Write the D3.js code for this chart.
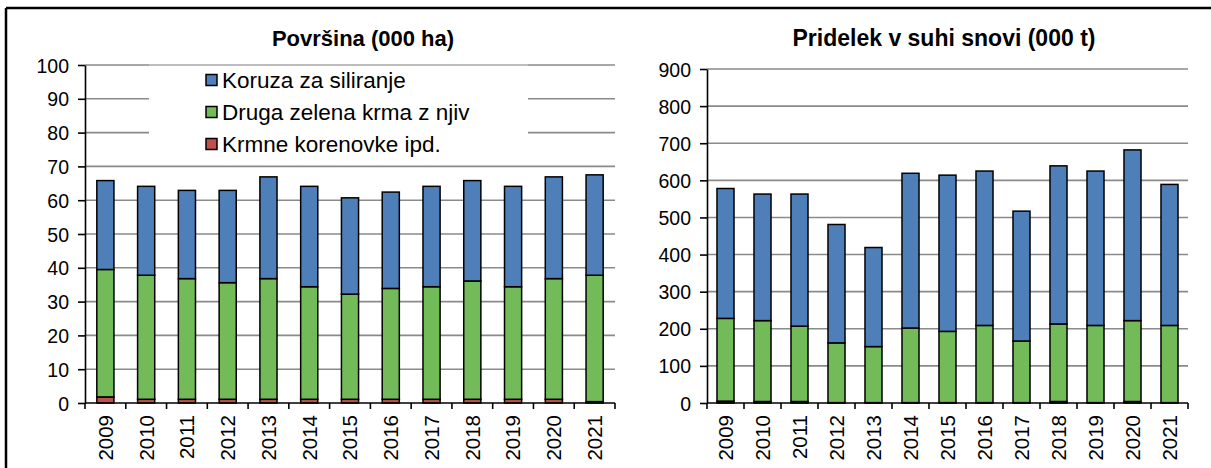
<!DOCTYPE html>
<html>
<head>
<meta charset="utf-8">
<script src="https://cdn.jsdelivr.net/npm/d3@7"></script>
<style>
  body { margin: 0; background: #fff; }
  svg text { font-family: "Liberation Sans", Arial, sans-serif; fill: #000; }
</style>
</head>
<body>
<svg id="chart" width="1211" height="468"></svg>
<script>
// data
const years = ["2009","2010","2011","2012","2013","2014","2015","2016","2017","2018","2019","2020","2021"]
const seriesNames = ["Krmne korenovke ipd.", "Druga zelena krma z njiv", "Koruza za siliranje"]
const colors = ["#C0504D", "#72BB58", "#4F7FB8"]

// area (000 ha)
const areaKrmne  = [1.8, 1.1, 1.1, 1.1, 1.1, 1.1, 1.1, 1.1, 1.1, 1.1, 1.1, 1.1, 0.4]
const areaDruga  = [37.7, 36.7, 35.7, 34.5, 35.7, 33.3, 31.1, 32.8, 33.3, 35.0, 33.3, 35.7, 37.4]
const areaKoruza = [26.3, 26.3, 26.1, 27.3, 30.1, 29.7, 28.5, 28.5, 29.7, 29.7, 29.7, 30.1, 29.7]
const areaTicks = [0, 10, 20, 30, 40, 50, 60, 70, 80, 90, 100]

// dry matter yield (000 t)
const yieldKrmne  = [5, 4, 4, 1, 1, 1, 1, 1, 1, 4, 1, 4, 1]
const yieldDruga  = [223, 218, 203, 161, 151, 201, 192, 208, 166, 209, 208, 218, 208]
const yieldKoruza = [350, 341, 356, 319, 267, 417, 421, 416, 350, 426, 416, 460, 380]
const yieldTicks = [0, 100, 200, 300, 400, 500, 600, 700, 800, 900]

const svg = d3.select("#chart")

// outer frame (top + left edge)
svg.append("line").attr("x1", 6).attr("x2", 1211).attr("y1", 8).attr("y2", 8)
  .attr("stroke", "#000").attr("stroke-width", 2.5)
svg.append("line").attr("x1", 6).attr("x2", 6).attr("y1", 8).attr("y2", 468)
  .attr("stroke", "#000").attr("stroke-width", 2.5)

function drawPanel(opts) {
  const rows = years.map(function(y, i) {
    return { year: y, k0: opts.s0[i], k1: opts.s1[i], k2: opts.s2[i] }
  })
  const stack = d3.stack().keys(["k0", "k1", "k2"])(rows)

  const x = d3.scaleBand().domain(years).range([opts.x0, opts.x1])
    .paddingInner(opts.pad).paddingOuter(opts.pad / 2)
  const y = d3.scaleLinear().domain([0, opts.max]).range([opts.y0, opts.y1])
  const step = x.step()

  const g = svg.append("g")

  // gridlines
  g.selectAll(".grid").data(opts.ticks.filter(function(t) { return t > 0 }))
    .enter().append("line")
    .attr("x1", opts.x0).attr("x2", opts.x1)
    .attr("y1", function(d) { return y(d) }).attr("y2", function(d) { return y(d) })
    .attr("stroke", "#8a8a8a").attr("stroke-width", 1.6)

  // bars
  stack.forEach(function(layer, li) {
    g.selectAll(".bar" + li).data(layer).enter().append("rect")
      .attr("x", function(d) { return x(d.data.year) })
      .attr("width", x.bandwidth())
      .attr("y", function(d) { return y(d[1]) })
      .attr("height", function(d) { return y(d[0]) - y(d[1]) })
      .attr("fill", colors[li])
      .attr("stroke", "#000").attr("stroke-width", 1.5)
  })

  // y axis
  const ya = g.append("g").attr("transform", "translate(" + opts.x0 + ",0)")
    .call(d3.axisLeft(y).tickValues(opts.ticks).tickSize(7).tickPadding(9).tickSizeOuter(0))
  ya.select(".domain").attr("stroke-width", 1.6)
  ya.selectAll(".tick line").attr("stroke-width", 1.6)
  ya.selectAll("text").attr("font-size", 19.5).attr("font-family", "Liberation Sans, Arial")
    .attr("dy", "0.36em")

  // x axis: ticks at band borders
  g.append("line").attr("x1", opts.x0).attr("x2", opts.x1)
    .attr("y1", opts.y0).attr("y2", opts.y0)
    .attr("stroke", "#000").attr("stroke-width", 1.6)
  const borders = years.map(function(d) { return x(d) - step * opts.pad / 2 })
  borders.push(opts.x1)
  g.selectAll(".xt").data(borders).enter().append("line")
    .attr("x1", function(d) { return d }).attr("x2", function(d) { return d })
    .attr("y1", opts.y0).attr("y2", opts.y0 + 6)
    .attr("stroke", "#000").attr("stroke-width", 1.6)

  g.selectAll(".xl").data(years).enter().append("text")
    .attr("transform", function(d) {
      return "translate(" + (x(d) + x.bandwidth() / 2) + "," + (opts.y0 + 12) + ") rotate(-90)"
    })
    .attr("text-anchor", "end").attr("dy", "0.36em")
    .attr("font-size", 20.5)
    .text(function(d) { return d })

  // title
  svg.append("text").attr("x", opts.tx).attr("y", 46)
    .attr("text-anchor", "middle").attr("font-size", opts.tsize).attr("font-weight", "bold")
    .text(opts.title)

  return { x: x, y: y }
}

const left = drawPanel({
  s0: areaKrmne, s1: areaDruga, s2: areaKoruza, ticks: areaTicks, max: 100,
  x0: 85, x1: 615, y0: 403, y1: 65, pad: 0.58, title: "Površina (000 ha)", tx: 363, tsize: 22
})

drawPanel({
  s0: yieldKrmne, s1: yieldDruga, s2: yieldKoruza, ticks: yieldTicks, max: 900,
  x0: 707, x1: 1188, y0: 403, y1: 69, pad: 0.54, title: "Pridelek v suhi snovi (000 t)", tx: 944, tsize: 23
})

// legend inside the left panel
const lg = svg.append("g")
lg.append("rect").attr("x", 149).attr("y", left.y(100) + 1).attr("width", 379).attr("height", 94)
  .attr("fill", "#fff")
lg.append("line").attr("x1", 149).attr("x2", 528).attr("y1", left.y(100)).attr("y2", left.y(100))
  .attr("stroke", "#d4d4d4").attr("stroke-width", 1.2)
const legendOrder = [2, 1, 0]
legendOrder.forEach(function(si, i) {
  const cy = 80 + i * 32
  lg.append("rect").attr("x", 206).attr("y", cy - 5.5).attr("width", 11).attr("height", 11)
    .attr("fill", colors[si]).attr("stroke", "#000").attr("stroke-width", 1.5)
  lg.append("text").attr("x", 222).attr("y", cy).attr("dy", "0.36em")
    .attr("font-size", 22.5).text(seriesNames[si])
})
</script>
</body>
</html>
